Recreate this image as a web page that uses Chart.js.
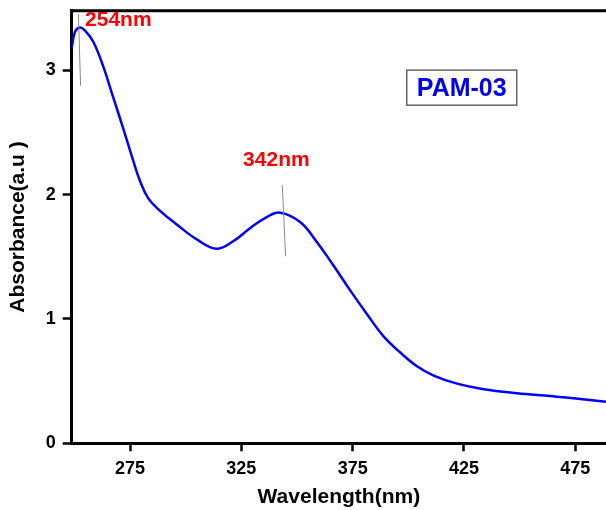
<!DOCTYPE html>
<html>
<head>
<meta charset="utf-8">
<script src="https://cdn.jsdelivr.net/npm/chart.js@4"></script>
<style>
html,body{margin:0;padding:0;background:#fff;overflow:hidden;}
#wrap{width:606px;height:510px;position:relative;}
</style>
</head>
<body>
<div id="wrap"><canvas id="c" width="606" height="510"></canvas></div>
<script>
// ---- data ----
const wavelength = [248.8,250.3,252.5,254.8,258.5,263.0,267.5,272.0,276.5,279.5,283.2,288.5,296.0,305.0,314.0,321.4,328.9,336.4,342.5,351.4,358.9,366.4,373.9,381.4,388.9,396.4,403.9,411.4,421.9,433.9,448.8,463.7,474.2,488.8];
const absorbance = [3.18,3.31,3.345,3.32,3.23,3.03,2.78,2.53,2.27,2.11,1.97,1.87,1.76,1.64,1.565,1.626,1.73,1.82,1.855,1.78,1.62,1.43,1.23,1.04,0.86,0.73,0.62,0.545,0.48,0.435,0.403,0.38,0.363,0.335];
const xTicks = [275,325,375,425,475];
const yTicks = [0,1,2,3];
const peakLabels = ['254nm','342nm'];
const peakLabelAt = [[254.8,3.353],[325.8,2.232]];
const peakMarkers = [[[251.8,3.454],[252.8,2.876]],[[343.4,2.077],[344.9,1.505]]];
const sampleName = 'PAM-03';
const sampleBox = {x1:399.3,x2:448.7,y1:3.002,y2:2.720,cx:424.0,cy:2.861};

const FONT = "'Liberation Sans', Arial, sans-serif";

const annot = {
  id:'annot',
  afterDraw(chart){
    const ctx = chart.ctx, xs = chart.scales.x, ys = chart.scales.y, a = chart.chartArea;
    ctx.save();
    // top frame line
    ctx.strokeStyle = '#000'; ctx.lineWidth = 3;
    ctx.beginPath(); ctx.moveTo(a.left-1.5, a.top); ctx.lineTo(a.right, a.top); ctx.stroke();
    // peak markers
    ctx.strokeStyle = '#8a8a8a'; ctx.lineWidth = 1;
    peakMarkers.forEach(m=>{
      ctx.beginPath();
      ctx.moveTo(xs.getPixelForValue(m[0][0]), ys.getPixelForValue(m[0][1]));
      ctx.lineTo(xs.getPixelForValue(m[1][0]), ys.getPixelForValue(m[1][1]));
      ctx.stroke();
    });
    // peak labels
    ctx.fillStyle = '#ff0000';
    ctx.font = 'bold 21px ' + FONT;
    ctx.textAlign = 'left'; ctx.textBaseline = 'alphabetic';
    peakLabels.forEach((t,i)=>{
      ctx.fillText(t, xs.getPixelForValue(peakLabelAt[i][0]), ys.getPixelForValue(peakLabelAt[i][1]));
    });
    // sample box
    const bx1 = xs.getPixelForValue(sampleBox.x1), bx2 = xs.getPixelForValue(sampleBox.x2);
    const by1 = ys.getPixelForValue(sampleBox.y1), by2 = ys.getPixelForValue(sampleBox.y2);
    ctx.strokeStyle = '#666'; ctx.lineWidth = 1.5;
    ctx.strokeRect(bx1, by1, bx2-bx1, by2-by1);
    ctx.fillStyle = '#0000ee';
    ctx.font = 'bold 25px ' + FONT;
    ctx.textAlign = 'center'; ctx.textBaseline = 'middle';
    ctx.fillText(sampleName, xs.getPixelForValue(sampleBox.cx), ys.getPixelForValue(sampleBox.cy)+1);
    ctx.restore();
  }
};

new Chart(document.getElementById('c'), {
  type:'line',
  data:{
    datasets:[{
      data: wavelength.map((w,i)=>({x:w,y:absorbance[i]})),
      borderColor:'#0000ff',
      borderWidth:2.5,
      pointRadius:0,
      fill:false,
      tension:0.4
    }]
  },
  options:{
    responsive:false,
    animation:false,
    events:[],
    layout:{padding:{top:10.7,right:0,left:0,bottom:0}},
    plugins:{legend:{display:false},tooltip:{enabled:false}},
    scales:{
      x:{
        type:'linear', min:248.8, max:488.8,
        afterBuildTicks(s){ s.ticks = xTicks.map(v=>({value:v})); },
        afterFit(s){ s.height = 66.7; s.paddingLeft = 0; s.paddingRight = 0; },
        ticks:{color:'#000', font:{family:FONT, size:18, weight:'bold'}, padding:7, maxRotation:0, autoSkip:false},
        grid:{display:true, drawOnChartArea:false, drawTicks:true, tickLength:8, tickWidth:2.5, tickColor:'#000'},
        border:{display:true, color:'#000', width:3},
        title:{display:true, text:'Wavelength(nm)', color:'#000', font:{family:FONT, size:21, weight:'bold'}, padding:{top:0,bottom:0}}
      },
      y:{
        type:'linear', min:0, max:3.48,
        afterBuildTicks(s){ s.ticks = yTicks.map(v=>({value:v})); },
        afterFit(s){ s.width = 71.7; s.paddingTop = 0; s.paddingBottom = 0; },
        ticks:{color:'#000', font:{family:FONT, size:18, weight:'bold'}, padding:7},
        grid:{display:true, drawOnChartArea:false, drawTicks:true, tickLength:9, tickWidth:2.5, tickColor:'#000'},
        border:{display:true, color:'#000', width:3},
        title:{display:true, text:'Absorbance(a.u )', color:'#000', font:{family:FONT, size:21, weight:'bold'}, padding:{top:6,bottom:0}}
      }
    }
  },
  plugins:[annot]
});
</script>
</body>
</html>
